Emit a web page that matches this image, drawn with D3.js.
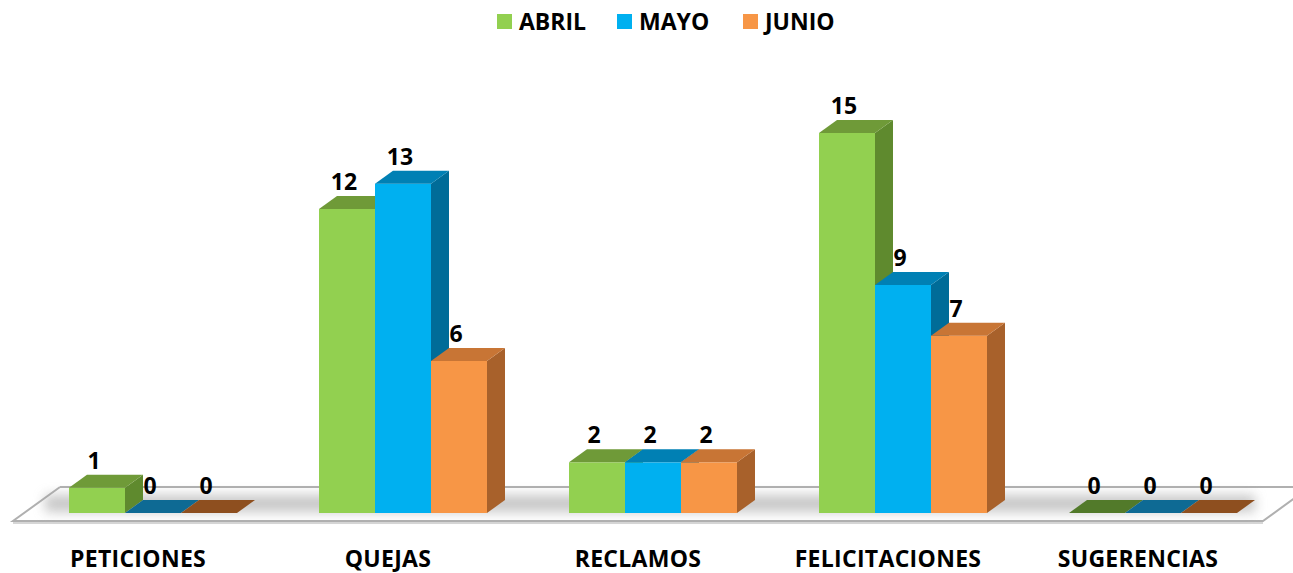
<!DOCTYPE html>
<html>
<head>
<meta charset="utf-8">
<script src="https://cdn.jsdelivr.net/npm/d3@7"></script>
<style>
  body { margin: 0; background: #fff; }
  text { font-family: "Open Sans", "Liberation Sans", Arial, sans-serif; font-weight: bold; }
</style>
</head>
<body>
<svg width="1293" height="573"></svg>
<script>
// datos
const categorias = ["PETICIONES", "QUEJAS", "RECLAMOS", "FELICITACIONES", "SUGERENCIAS"];
const series = ["ABRIL", "MAYO", "JUNIO"];
const abril = [1, 12, 2, 15, 0];
const mayo = [0, 13, 2, 9, 0];
const junio = [0, 6, 2, 7, 0];
const valores = [abril, mayo, junio];

const colores = {
  ABRIL: { front: "#92d050", top: "#6f9a38", side: "#5f8a2e", cero: "#527a2a" },
  MAYO:  { front: "#00b0f0", top: "#0080b4", side: "#006c98", cero: "#0e6a94" },
  JUNIO: { front: "#f79646", top: "#c87535", side: "#a8612b", cero: "#8e4f1f" }
};

const svg = d3.select("svg");
const base = 513;   // bas de la face avant
const dx = 18, dy = 13;

const x = d3.scaleBand()
  .domain(categorias)
  .range([28, 1278])
  .paddingInner(0.328)
  .paddingOuter(0.164);

const xs = d3.scaleBand()
  .domain(series)
  .range([0, x.bandwidth()]);

const y = d3.scaleLinear()
  .domain([0, 15])
  .range([base, 133]);

// sol
const defs = svg.append("defs");
defs.append("filter").attr("id", "flou")
  .attr("x", "-20%").attr("y", "-100%").attr("width", "140%").attr("height", "300%")
  .append("feGaussianBlur").attr("stdDeviation", 6);

const sol = [[60, 487], [1310, 487], [1263, 521], [13, 521]];
svg.append("path")
  .attr("d", d3.line()([...sol, sol[0]]))
  .attr("fill", "#fff")
  .attr("stroke", "#b0b0b0")
  .attr("stroke-width", 2);
svg.append("path")
  .attr("d", d3.line()([[13, 523], [1263, 523]]))
  .attr("stroke", "#c8c8c8")
  .attr("stroke-width", 1.5);

svg.append("rect")
  .attr("x", 45).attr("y", 495)
  .attr("width", 1210).attr("height", 17)
  .attr("fill", "#9a9a9a")
  .attr("opacity", 0.55)
  .attr("filter", "url(#flou)");

// barres 3D
const barres = [];
categorias.forEach((c, i) => {
  series.forEach((s, j) => {
    barres.push({ cat: c, serie: s, valeur: valores[j][i] });
  });
});

const g = svg.append("g");
barres.forEach(d => {
  const x0 = x(d.cat) + xs(d.serie);
  const w = xs.bandwidth();
  const yt = y(d.valeur);
  const col = colores[d.serie];
  const h = base - yt;

  if (h > 0) {
    g.append("rect")
      .attr("x", x0).attr("y", yt)
      .attr("width", w).attr("height", h)
      .attr("fill", col.front);
    g.append("path")
      .attr("d", d3.line()([[x0 + w, yt], [x0 + w + dx, yt - dy], [x0 + w + dx, base - dy], [x0 + w, base]]) + "Z")
      .attr("fill", col.side);
  }
  g.append("path")
    .attr("d", d3.line()([[x0, yt], [x0 + dx, yt - dy], [x0 + w + dx, yt - dy], [x0 + w, yt]]) + "Z")
    .attr("fill", h > 0 ? col.top : col.cero);
});

// étiquettes de valeurs
g.selectAll("text.valeur")
  .data(barres)
  .join("text")
  .attr("class", "valeur")
  .attr("x", d => x(d.cat) + xs(d.serie) + xs.bandwidth() / 2 - 3)
  .attr("y", d => y(d.valeur) - dy - 6)
  .attr("text-anchor", "middle")
  .attr("font-size", "23px")
  .attr("fill", "#000")
  .text(d => d.valeur);

// catégories
svg.selectAll("text.cat")
  .data(categorias)
  .join("text")
  .attr("class", "cat")
  .attr("x", d => x(d) + x.bandwidth() / 2 - 15)
  .attr("y", 567)
  .attr("text-anchor", "middle")
  .attr("font-size", "23px")
  .attr("letter-spacing", "0.3px")
  .text(d => d);

// légende
const legende = svg.append("g");
const posLeg = [497, 617, 743];
series.forEach((s, i) => {
  legende.append("rect")
    .attr("x", posLeg[i]).attr("y", 14)
    .attr("width", 15).attr("height", 15)
    .attr("fill", colores[s].front);
  legende.append("text")
    .attr("x", posLeg[i] + 22).attr("y", 30)
    .attr("font-size", "23px")
    .text(s);
});
</script>
</body>
</html>
